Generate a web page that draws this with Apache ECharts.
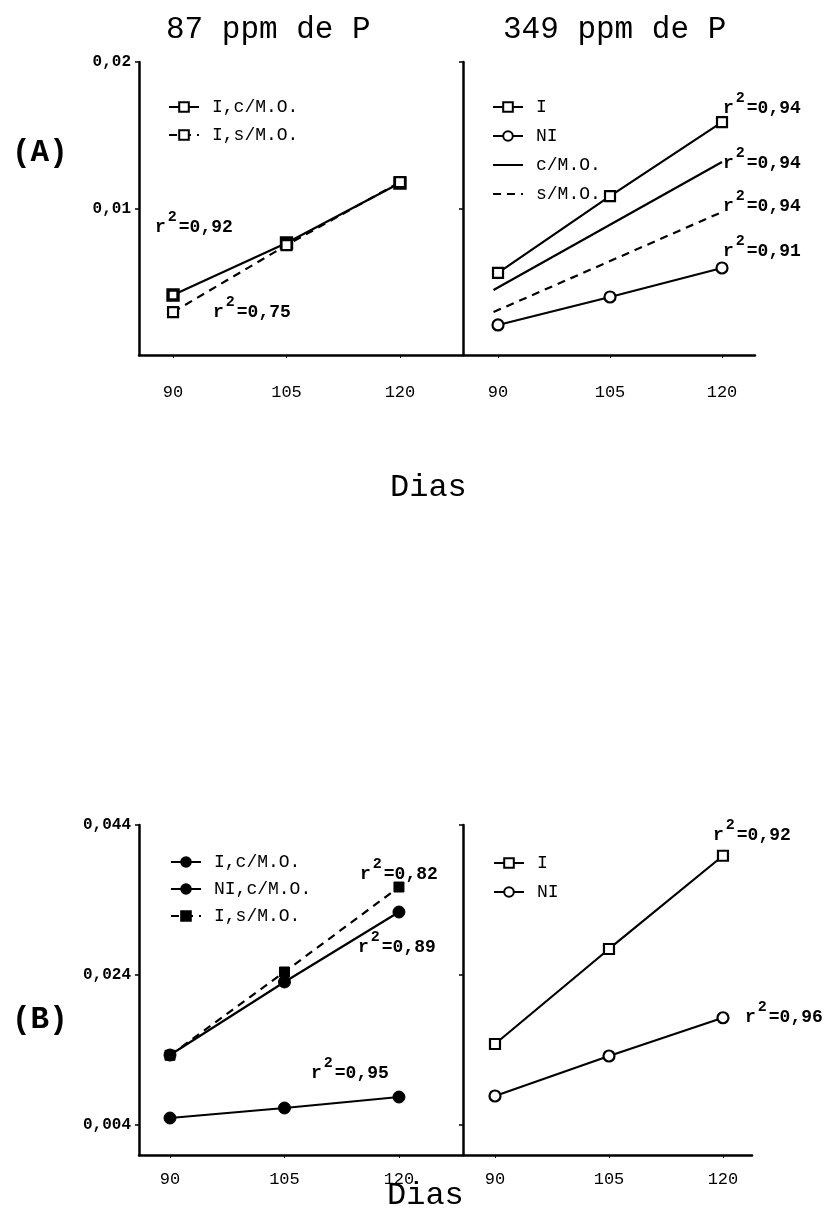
<!DOCTYPE html>
<html>
<head>
<meta charset="utf-8">
<script src="https://cdn.jsdelivr.net/npm/echarts@6/dist/echarts.min.js"></script>
<style>
html,body{margin:0;padding:0;background:#fff;}
#chart{width:825px;height:1213px;}
</style>
</head>
<body>
<div id="chart"></div>
<script>
// ---- data ----
const days = [90, 105, 120];
const xTickValues = [90, 105, 120];
const topYTicks = [0.01, 0.02];
const botYTicks = [0.004, 0.024, 0.044];

// (A) 87 ppm de P
const a87_I_cMO = [0.0041, 0.00765, 0.01174];
const a87_I_sMO = [0.00293, 0.0075, 0.0118];
// (A) 349 ppm de P
const a349_I = [0.0056, 0.01085, 0.0159];
const a349_NI = [0.00205, 0.00396, 0.00594];
const a349_fitDays = [89.4, 120];
const a349_fit_cMO = [0.00444, 0.01317];
const a349_fit_sMO = [0.00293, 0.00976];
// (B) left
const b_I_cMO = [0.01333, 0.02307, 0.0324];
const b_NI_cMO = [0.00493, 0.00627, 0.00773];
const b_I_sMO = [0.0133, 0.0244, 0.03573];
// (B) right
const b_I = [0.0148, 0.02747, 0.0399];
const b_NI = [0.00787, 0.0132, 0.0183];

const MONO = '"Liberation Mono","DejaVu Sans Mono",monospace';
const pairs = (xs, ys) => xs.map((x, i) => [x, ys[i]]);
const comma = v => String(v).replace('.', ',');

const displayNames = {
  tl_Ic: 'I,c/M.O.', tl_Is: 'I,s/M.O.',
  tr_I: 'I', tr_NI: 'NI', tr_c: 'c/M.O.', tr_s: 's/M.O.',
  bl_Ic: 'I,c/M.O.', bl_NIc: 'NI,c/M.O.', bl_Is: 'I,s/M.O.',
  br_I: 'I', br_NI: 'NI'
};

const grids = [
  {left: 139, top: 62, width: 323, height: 293},
  {left: 463, top: 62, width: 292, height: 293},
  {left: 139, top: 825, width: 323, height: 330},
  {left: 463, top: 825, width: 289, height: 330}
];
const xRanges = [[85.5, 128.2], [85.31, 124.42], [85.94, 128.26], [85.79, 123.82]];
const xLabelMargin = [29, 29, 16, 16];

const xAxes = xRanges.map((r, i) => ({
  type: 'value', gridIndex: i, min: r[0], max: r[1],
  splitLine: {show: false},
  axisLine: {show: true, onZero: false, lineStyle: {color: '#000', width: 2.5}},
  axisTick: {show: true, length: 3, lineStyle: {color: '#000', width: 1}, customValues: xTickValues},
  axisLabel: {color: '#000', fontFamily: MONO, fontSize: 17, margin: xLabelMargin[i], customValues: xTickValues}
}));

function yAxis(i, max, ticks, showLabels) {
  return {
    type: 'value', gridIndex: i, min: 0, max: max,
    splitLine: {show: false},
    axisLine: {show: true, onZero: false, lineStyle: {color: '#000', width: 2.5}},
    axisTick: {show: true, length: 4, lineStyle: {color: '#000', width: 1.5}, customValues: ticks},
    axisLabel: {show: showLabels, color: '#000', fontFamily: MONO, fontWeight: 'bold', fontSize: 16, margin: 8,
      customValues: ticks, formatter: comma}
  };
}
const yAxes = [
  yAxis(0, 0.02, topYTicks, true),
  yAxis(1, 0.02, topYTicks, false),
  yAxis(2, 0.044, botYTicks, true),
  yAxis(3, 0.044, botYTicks, false)
];

function line(name, idx, xs, ys, opts) {
  return Object.assign({
    type: 'line', name: name, xAxisIndex: idx, yAxisIndex: idx,
    data: pairs(xs, ys), animation: false, silent: true,
    lineStyle: {color: '#000', width: 2.2, type: (opts && opts.dash) ? [8, 6] : 'solid'},
    symbol: 'none', symbolSize: 10,
    itemStyle: {color: '#fff', borderColor: '#000', borderWidth: 2.2}
  }, opts && opts.extra);
}

const openSq = {symbol: 'rect', symbolSize: 10, itemStyle: {color: '#fff', borderColor: '#000', borderWidth: 2.2}};
const boldSq = {symbol: 'rect', symbolSize: 10, itemStyle: {color: '#fff', borderColor: '#000', borderWidth: 3.4}};
const openCi = {symbol: 'circle', symbolSize: 11, itemStyle: {color: '#fff', borderColor: '#000', borderWidth: 2.2}};
const fillCi = {symbol: 'circle', symbolSize: 12, itemStyle: {color: '#000', borderColor: '#000', borderWidth: 1}};
const fillSq = {symbol: 'rect', symbolSize: 10, itemStyle: {color: '#000', borderColor: '#000', borderWidth: 1}};

const series = [
  line('tl_Ic', 0, days, a87_I_cMO, {extra: boldSq}),
  line('tl_Is', 0, days, a87_I_sMO, {dash: true, extra: openSq}),
  line('tr_I', 1, days, a349_I, {extra: openSq}),
  line('tr_NI', 1, days, a349_NI, {extra: openCi}),
  line('tr_c', 1, a349_fitDays, a349_fit_cMO, {}),
  line('tr_s', 1, a349_fitDays, a349_fit_sMO, {dash: true}),
  line('bl_Ic', 2, days, b_I_cMO, {extra: fillCi}),
  line('bl_NIc', 2, days, b_NI_cMO, {extra: fillCi}),
  line('bl_Is', 2, days, b_I_sMO, {dash: true, extra: fillSq}),
  line('br_I', 3, days, b_I, {extra: openSq}),
  line('br_NI', 3, days, b_NI, {extra: openCi})
];

function legend(names, left, top, gap) {
  return {
    data: names, left: left, top: top, orient: 'vertical', selectedMode: false,
    itemWidth: 30, itemHeight: 12, itemGap: gap,
    formatter: n => displayNames[n],
    textStyle: {fontFamily: MONO, fontSize: 18, color: '#000', padding: [0, 0, 0, 8]}
  };
}
const legends = [
  legend(['tl_Ic', 'tl_Is'], 163, 93, 10),
  legend(['tr_I', 'tr_NI',
          {name: 'tr_c', itemStyle: {opacity: 0}},
          {name: 'tr_s', itemStyle: {opacity: 0}}], 487, 93, 11),
  legend(['bl_Ic', 'bl_NIc', 'bl_Is'], 165, 848, 9),
  legend(['br_I', 'br_NI'], 488, 849, 11)
];

function txt(x, y, s, size, weight) {
  return {type: 'text', left: x, top: y, silent: true,
    style: {text: s, fontFamily: MONO, fontSize: size, fontWeight: weight || 'normal', fill: '#000'}};
}
function r2(x, y, val) {
  return {type: 'text', left: x, top: y, silent: true,
    style: {text: '{a|r}{b|2}{a|=' + val + '}', fill: '#000',
      rich: {
        a: {fontFamily: MONO, fontSize: 18, fontWeight: 'bold', lineHeight: 26, verticalAlign: 'bottom', fill: '#000'},
        b: {fontFamily: MONO, fontSize: 15, fontWeight: 'bold', lineHeight: 26, verticalAlign: 'top', fill: '#000', padding: [0, 2, 0, 2]}
      }}};
}

const graphics = [
  txt(166, 14, '87 ppm de P', 31),
  txt(503, 14, '349 ppm de P', 31),
  txt(12, 138, '(A)', 31, 'bold'),
  txt(390, 472, 'Dias', 32),
  txt(12, 1005, '(B)', 31, 'bold'),
  txt(387, 1180, 'Dias', 32),
  r2(155, 210, '0,92'),
  r2(213, 295, '0,75'),
  r2(723, 91, '0,94'),
  r2(723, 146, '0,94'),
  r2(723, 189, '0,94'),
  r2(723, 234, '0,91'),
  r2(360, 857, '0,82'),
  r2(358, 930, '0,89'),
  r2(311, 1056, '0,95'),
  r2(713, 818, '0,92'),
  r2(745, 1000, '0,96')
];

const chart = echarts.init(document.getElementById('chart'), null, {renderer: 'canvas'});
chart.setOption({
  backgroundColor: '#fff',
  animation: false,
  grid: grids,
  xAxis: xAxes,
  yAxis: yAxes,
  legend: legends,
  series: series,
  graphic: graphics
});
</script>
</body>
</html>
